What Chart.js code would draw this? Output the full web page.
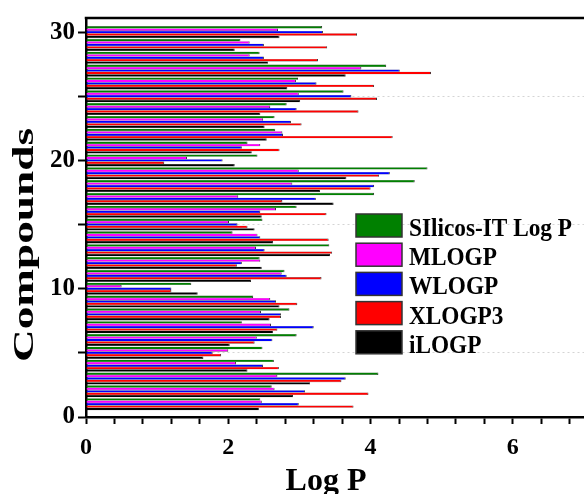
<!DOCTYPE html>
<html>
<head>
<meta charset="utf-8">
<script src="https://cdn.jsdelivr.net/npm/chart.js@4.4.0/dist/chart.umd.min.js"></script>
<style>
  html, body { margin: 0; padding: 0; background: #fff; }
</style>
</head>
<body>
<canvas id="logp_canvas" width="584" height="494"></canvas>
<script>
// compounds 1..30 (bottom to top)
var compounds = [1, 2, 3, 4, 5, 6, 7, 8, 9, 10, 11, 12, 13, 14, 15, 16, 17, 18, 19, 20, 21, 22, 23, 24, 25, 26, 27, 28, 29, 30];

var silicos = [2.45, 2.61, 4.11, 2.64, 2.48, 2.96, 2.19, 2.86, 2.35, 1.48, 2.79, 2.44, 3.42, 2.06, 2.48, 2.96, 4.05, 4.62, 4.80, 2.41, 2.27, 2.66, 2.65, 2.82, 3.62, 2.98, 4.22, 2.44, 2.17, 3.32];
var mlogp   = [2.47, 2.65, 2.69, 2.11, 2.00, 2.40, 2.60, 2.46, 2.59, 0.50, 2.75, 2.45, 2.39, 2.41, 2.01, 2.67, 2.14, 2.90, 2.99, 1.42, 2.45, 2.76, 2.49, 2.59, 2.99, 2.95, 3.87, 2.30, 2.30, 2.70];
var wlogp   = [2.99, 3.08, 3.65, 2.49, 1.78, 2.62, 3.20, 2.74, 2.67, 1.20, 2.82, 2.19, 2.51, 2.45, 2.13, 2.45, 3.23, 4.05, 4.27, 1.92, 2.19, 2.77, 2.88, 2.96, 3.73, 3.24, 4.41, 2.50, 2.50, 3.33];
var xlogp3  = [3.76, 3.97, 3.59, 2.71, 1.90, 2.37, 2.69, 2.74, 2.97, 1.20, 3.31, 2.12, 3.46, 3.41, 2.27, 3.38, 2.76, 4.00, 4.12, 1.10, 2.72, 4.31, 3.03, 3.83, 4.09, 4.05, 4.85, 3.26, 3.39, 3.81];
var ilogp   = [2.43, 2.91, 3.15, 2.27, 1.65, 2.02, 2.63, 2.58, 2.72, 1.57, 2.32, 2.47, 3.43, 2.63, 2.37, 2.47, 3.48, 3.29, 3.66, 2.09, 2.33, 2.54, 2.51, 2.45, 3.01, 2.83, 3.65, 2.56, 2.09, 2.72];

var xTickLabels = [0, 2, 4, 6];
var yTickLabels = [0, 10, 20, 30];

var serif = "'Liberation Serif', 'Times New Roman', serif";

function toPoints(vals) {
    return compounds.map(function(c, i) { return { x: vals[i], y: c }; });
}

function makeSet(label, vals, color) {
    return {
        label: label,
        data: toPoints(vals),
        backgroundColor: color,
        borderColor: '#1a1a1a',
        borderWidth: { top: 0.3, bottom: 0.3, right: 0.9, left: 0 },
        borderSkipped: 'start',
        categoryPercentage: 0.94,
        barPercentage: 1.0
    };
}

var datasets = [
    makeSet('SIlicos-IT Log P', silicos, '#008000'),
    makeSet('MLOGP', mlogp, '#FF00FF'),
    makeSet('WLOGP', wlogp, '#0000FF'),
    makeSet('XLOGP3', xlogp3, '#FF0000'),
    makeSet('iLOGP', ilogp, '#000000')
];

function near(v, list) {
    for (var i = 0; i < list.length; i++) {
        if (Math.abs(v - list[i]) < 1e-6) return true;
    }
    return false;
}

// legend, titles and top frame line
var decorPlugin = {
    id: 'decor',
    afterDraw: function(chart) {
        var ctx = chart.ctx;
        var area = chart.chartArea;
        ctx.save();

        ctx.strokeStyle = '#000';
        ctx.lineWidth = 2.5;
        ctx.beginPath();
        ctx.moveTo(area.left - 1.25, area.top);
        ctx.lineTo(area.right, area.top);
        ctx.stroke();

        // legend
        var sets = chart.data.datasets;
        ctx.font = 'bold 25px ' + serif;
        var sx = 163 / ctx.measureText(sets[0].label).width;
        for (var i = 0; i < sets.length; i++) {
            var top = 214 + i * 29.2;
            ctx.fillStyle = sets[i].backgroundColor;
            ctx.fillRect(356, top, 46, 23);
            ctx.lineWidth = 1.5;
            ctx.strokeStyle = '#333';
            ctx.strokeRect(356, top, 46, 23);
            ctx.save();
            ctx.translate(409, top + 22);
            ctx.scale(sx, 1);
            ctx.fillStyle = '#000';
            ctx.textAlign = 'left';
            ctx.textBaseline = 'alphabetic';
            ctx.fillText(sets[i].label, 0, 0);
            ctx.restore();
        }

        // x title
        ctx.fillStyle = '#000';
        ctx.font = 'bold 32px ' + serif;
        ctx.textAlign = 'center';
        ctx.textBaseline = 'alphabetic';
        ctx.fillText('Log P', 326, 490);

        // y title, stretched along its length
        ctx.save();
        ctx.translate(33, 245);
        ctx.rotate(-Math.PI / 2);
        ctx.font = 'bold 30px ' + serif;
        var w = ctx.measureText('Compounds').width;
        ctx.scale(234 / w, 1);
        ctx.textAlign = 'center';
        ctx.fillText('Compounds', 0, 0);
        ctx.restore();

        ctx.restore();
    }
};

var canvas = document.getElementById('logp_canvas');
var context = canvas.getContext('2d');

var chart = new Chart(context, {
    type: 'bar',
    data: { datasets: datasets },
    plugins: [decorPlugin],
    options: {
        responsive: false,
        animation: false,
        devicePixelRatio: 1,
        indexAxis: 'y',
        layout: { padding: { top: 14, right: 0, left: 0, bottom: 0 } },
        plugins: {
            legend: { display: false },
            tooltip: { enabled: false }
        },
        scales: {
            x: {
                type: 'linear',
                position: 'bottom',
                min: 0,
                max: 7,
                afterFit: function(s) { s.height = 77; },
                ticks: {
                    stepSize: 0.4,
                    includeBounds: false,
                    autoSkip: false,
                    maxRotation: 0,
                    padding: 9,
                    color: '#000',
                    font: { family: serif, weight: 'bold', size: 24 },
                    callback: function(v) { return near(v, xTickLabels) ? String(v) : ''; }
                },
                grid: {
                    drawOnChartArea: false,
                    tickLength: 7,
                    tickWidth: 2,
                    tickColor: '#000'
                },
                border: { color: '#000', width: 2.5 }
            },
            y: {
                type: 'linear',
                offset: false,
                min: 0,
                max: 31.1,
                afterFit: function(s) { s.width = 86; },
                ticks: {
                    stepSize: 5,
                    includeBounds: false,
                    autoSkip: false,
                    padding: 3,
                    color: '#000',
                    font: { family: serif, weight: 'bold', size: 25 },
                    callback: function(v) { return near(v, yTickLabels) ? String(v) : ''; }
                },
                grid: {
                    offset: false,
                    lineWidth: 1,
                    color: function(c) {
                        return (c.tick && near(c.tick.value, [5, 15, 25])) ? '#d4d4d4' : 'rgba(0,0,0,0)';
                    },
                    tickLength: 8,
                    tickWidth: 2,
                    tickColor: '#000'
                },
                border: { color: '#000', width: 2.5, dash: [2, 3] }
            }
        }
    }
});
</script>
</body>
</html>
